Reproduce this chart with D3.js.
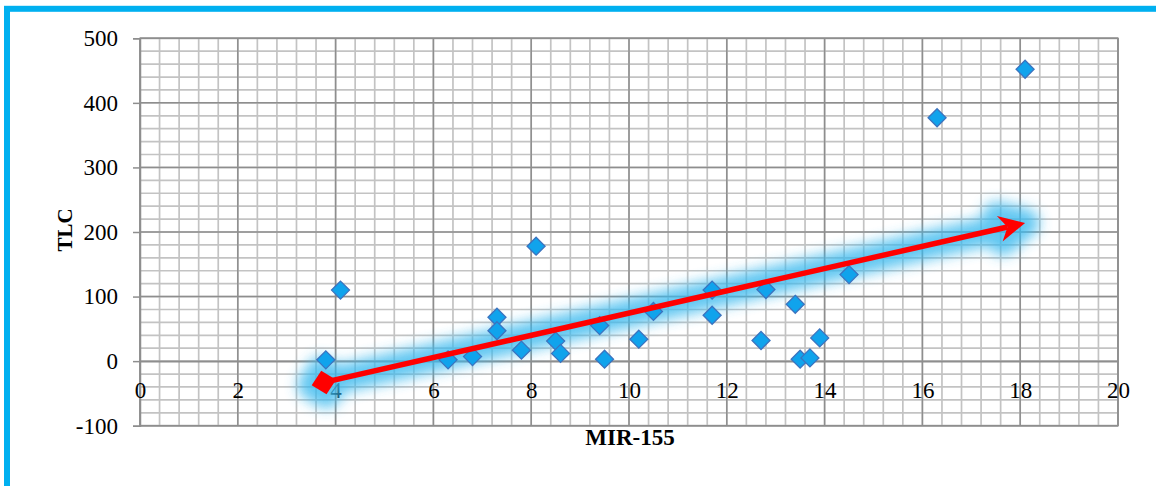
<!DOCTYPE html>
<html>
<head>
<meta charset="utf-8">
<script src="https://cdn.jsdelivr.net/npm/d3@7"></script>
<style>
  html, body { margin: 0; padding: 0; background: #fff; }
  svg { display: block; }
  text { font-family: "Liberation Serif", "Times New Roman", serif; fill: #000; }
</style>
</head>
<body>
<svg id="chart" width="1156" height="486"></svg>
<script>
// ---- data ----
const mir155 = [3.8, 4.1, 6.3, 6.8, 7.3, 7.3, 7.8, 8.1, 8.5, 8.6, 9.4, 9.5, 10.2, 10.5, 11.7, 11.7, 12.7, 12.8, 13.4, 13.5, 13.7, 13.9, 14.5, 16.3, 18.1];
const tlc    = [2, 110, 2, 7, 68, 47, 17, 178, 31, 12, 55, 3, 34, 77, 110, 71, 32, 111, 88, 3, 5, 36, 134, 377, 452];
const xTicks = [0, 2, 4, 6, 8, 10, 12, 14, 16, 18, 20];
const yTicks = [-100, 0, 100, 200, 300, 400, 500];
const trendStart = [3.76, -33];
const trendEnd = [18.1, 214];
const xTitle = "MIR-155";
const yTitle = "TLC";

// ---- layout ----
const svg = d3.select("#chart");
const L = 140, R = 1118, T = 38.3, B = 425.7;
const x = d3.scaleLinear().domain([0, 20]).range([L, R]);
const y = d3.scaleLinear().domain([-100, 500]).range([B, T]);

svg.append("rect").attr("width", 1156).attr("height", 486).attr("fill", "#fff");

// frame (top + left visible)
svg.append("rect").attr("x", 7).attr("y", 8.8).attr("width", 1200).attr("height", 600)
  .attr("fill", "none").attr("stroke", "#00B0F0").attr("stroke-width", 6);

// gridlines
const g = svg.append("g");
const minorX = d3.range(0, 20.0001, 0.4);
const minorY = d3.range(-100, 500.0001, 20);
g.selectAll(".mx").data(minorX).join("line")
  .attr("x1", d => x(d)).attr("x2", d => x(d)).attr("y1", T).attr("y2", B)
  .attr("stroke", "#c3c3c3").attr("stroke-width", 1.7);
g.selectAll(".my").data(minorY).join("line")
  .attr("y1", d => y(d)).attr("y2", d => y(d)).attr("x1", L).attr("x2", R)
  .attr("stroke", "#c3c3c3").attr("stroke-width", 1.7);
g.selectAll(".Mx").data(xTicks).join("line")
  .attr("x1", d => x(d)).attr("x2", d => x(d)).attr("y1", T).attr("y2", B)
  .attr("stroke", "#8e8e8e").attr("stroke-width", 1.5);
g.selectAll(".My").data(yTicks).join("line")
  .attr("y1", d => y(d)).attr("y2", d => y(d)).attr("x1", L).attr("x2", R)
  .attr("stroke", "#8e8e8e").attr("stroke-width", 1.5);
// plot border
svg.append("rect").attr("x", L).attr("y", T).attr("width", R - L).attr("height", B - T)
  .attr("fill", "none").attr("stroke", "#8e8e8e").attr("stroke-width", 1.5);

// axes
const fmt = d => String(d);
const yAxis = svg.append("g").attr("transform", `translate(${L},0)`)
  .call(d3.axisLeft(y).tickValues(yTicks).tickSize(7).tickPadding(15).tickFormat(fmt));
yAxis.select(".domain").attr("stroke", "#8e8e8e").attr("stroke-width", 1.5);
yAxis.selectAll(".tick line").attr("stroke", "#8e8e8e").attr("stroke-width", 1.5);
yAxis.selectAll("text").attr("font-size", 23).attr("font-family", "Liberation Serif").attr("fill", "#000");

const xAxis = svg.append("g").attr("transform", `translate(0,${y(0)})`)
  .call(d3.axisBottom(x).tickValues(xTicks).tickSize(0).tickPadding(21).tickFormat(fmt));
xAxis.select(".domain").attr("stroke", "#8e8e8e").attr("stroke-width", 1.5);
xAxis.selectAll("text").attr("font-size", 23).attr("font-family", "Liberation Serif").attr("fill", "#000");

// titles
svg.append("text").attr("transform", `translate(72,230) rotate(-90)`)
  .attr("text-anchor", "middle").attr("font-weight", "bold").attr("font-size", 21).text(yTitle);
svg.append("text").attr("x", 630).attr("y", 445)
  .attr("text-anchor", "middle").attr("font-weight", "bold").attr("font-size", 23).text(xTitle);

// trend arrow geometry (pixel space from scales)
const S = [x(trendStart[0]), y(trendStart[1])];
const E = [x(trendEnd[0]), y(trendEnd[1])];
const len = Math.hypot(E[0] - S[0], E[1] - S[1]);
const u = [(E[0] - S[0]) / len, (E[1] - S[1]) / len];
const n = [-u[1], u[0]];
const P = (base, a, b) => [base[0] + a * u[0] + b * n[0], base[1] + a * u[1] + b * n[1]];
const head = [E, P(E, -26, 13), P(E, -18, 0), P(E, -26, -13)];
const notch = P(E, -18, 0);
const dia = [P(S, 12.5, 0), P(S, 0, 12), P(S, -12.5, 0), P(S, 0, -12)];
const line = d3.line();

// glow
const defs = svg.append("defs");
defs.append("filter").attr("id", "glow").attr("x", "-20%").attr("y", "-60%").attr("width", "140%").attr("height", "220%")
  .append("feGaussianBlur").attr("stdDeviation", 7);
const glow = svg.append("g").attr("filter", "url(#glow)").attr("opacity", 0.8);
glow.append("path").attr("d", line([S, notch])).attr("stroke", "#3ab9ee").attr("stroke-width", 28)
  .attr("stroke-linecap", "round").attr("fill", "none");
glow.append("path").attr("d", line(head) + "Z").attr("fill", "#3ab9ee").attr("stroke", "#3ab9ee")
  .attr("stroke-width", 28).attr("stroke-linejoin", "round");
glow.append("path").attr("d", line(dia) + "Z").attr("fill", "#3ab9ee").attr("stroke", "#3ab9ee")
  .attr("stroke-width", 28).attr("stroke-linejoin", "round");

// points
svg.append("g").selectAll("path").data(mir155.map((v, i) => [v, tlc[i]])).join("path")
  .attr("transform", d => `translate(${x(d[0])},${y(d[1])})`)
  .attr("d", "M0,-9L9,0L0,9L-9,0Z")
  .attr("fill", "#10a3ec").attr("stroke", "#3b73bf").attr("stroke-width", 1.3);

// red arrow
const arrow = svg.append("g");
arrow.append("path").attr("d", line([S, notch])).attr("stroke", "#ff0000").attr("stroke-width", 5.5).attr("fill", "none");
arrow.append("path").attr("d", line(head) + "Z").attr("fill", "#ff0000");
arrow.append("path").attr("d", line(dia) + "Z").attr("fill", "#ff0000");
</script>
</body>
</html>
